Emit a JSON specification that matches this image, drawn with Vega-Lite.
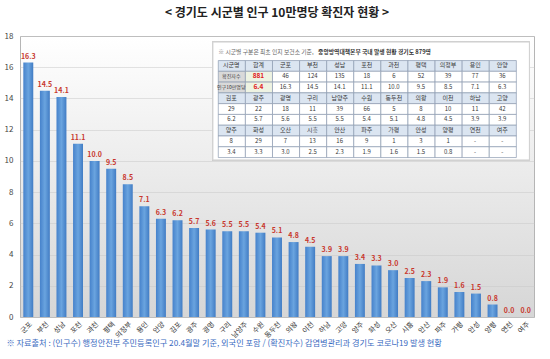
{
  "$schema": "https://vega.github.io/schema/vega-lite/v6.json",
  "width": 514,
  "height": 281,
  "autosize": "none",
  "padding": {"left": 20, "top": 36, "right": 16, "bottom": 42},
  "background": "white",
  "title": {"text": "< 경기도 시군별 인구 10만명당 확진자 현황 >", "fontSize": 12, "fontWeight": "bold", "color": "#222222", "offset": 12, "font": "Noto Sans CJK KR"},
  "config": {
    "font": "Noto Sans CJK KR",
    "view": {"stroke": "#b5b5b5", "strokeWidth": 1, "fill": {"gradient": "linear", "x1": 0, "y1": 0, "x2": 0, "y2": 1, "stops": [{"offset": 0, "color": "#ffffff"}, {"offset": 1, "color": "#d6d6d6"}]}}
  },
  "datasets": {
    "bars": [
      {"city": "군포", "v": 16.3}, {"city": "부천", "v": 14.5}, {"city": "성남", "v": 14.1}, {"city": "포천", "v": 11.1},
      {"city": "과천", "v": 10.0}, {"city": "평택", "v": 9.5}, {"city": "의정부", "v": 8.5}, {"city": "용인", "v": 7.1},
      {"city": "안양", "v": 6.3}, {"city": "김포", "v": 6.2}, {"city": "광주", "v": 5.7}, {"city": "광명", "v": 5.6},
      {"city": "구리", "v": 5.5}, {"city": "남양주", "v": 5.5}, {"city": "수원", "v": 5.4}, {"city": "동두천", "v": 5.1},
      {"city": "의왕", "v": 4.8}, {"city": "이천", "v": 4.5}, {"city": "하남", "v": 3.9}, {"city": "고양", "v": 3.9},
      {"city": "양주", "v": 3.4}, {"city": "화성", "v": 3.3}, {"city": "오산", "v": 3.0}, {"city": "시흥", "v": 2.5},
      {"city": "안산", "v": 2.3}, {"city": "파주", "v": 1.9}, {"city": "가평", "v": 1.6}, {"city": "안성", "v": 1.5},
      {"city": "양평", "v": 0.8}, {"city": "연천", "v": 0.0}, {"city": "여주", "v": 0.0}
    ],
    "table": [
      {"r": 0, "c": 0, "t": "시군명", "k": "h"}, {"r": 0, "c": 1, "t": "합계", "k": "h"}, {"r": 0, "c": 2, "t": "군포", "k": "h"}, {"r": 0, "c": 3, "t": "부천", "k": "h"}, {"r": 0, "c": 4, "t": "성남", "k": "h"}, {"r": 0, "c": 5, "t": "포천", "k": "h"}, {"r": 0, "c": 6, "t": "과천", "k": "h"}, {"r": 0, "c": 7, "t": "평택", "k": "h"}, {"r": 0, "c": 8, "t": "의정부", "k": "h"}, {"r": 0, "c": 9, "t": "용인", "k": "h"}, {"r": 0, "c": 10, "t": "안양", "k": "h"},
      {"r": 1, "c": 0, "t": "확진자수", "k": "l"}, {"r": 1, "c": 1, "t": "881", "k": "s"}, {"r": 1, "c": 2, "t": "46", "k": "v"}, {"r": 1, "c": 3, "t": "124", "k": "v"}, {"r": 1, "c": 4, "t": "135", "k": "v"}, {"r": 1, "c": 5, "t": "18", "k": "v"}, {"r": 1, "c": 6, "t": "6", "k": "v"}, {"r": 1, "c": 7, "t": "52", "k": "v"}, {"r": 1, "c": 8, "t": "39", "k": "v"}, {"r": 1, "c": 9, "t": "77", "k": "v"}, {"r": 1, "c": 10, "t": "36", "k": "v"},
      {"r": 2, "c": 0, "t": "인구10만명당", "k": "l"}, {"r": 2, "c": 1, "t": "6.4", "k": "s"}, {"r": 2, "c": 2, "t": "16.3", "k": "v"}, {"r": 2, "c": 3, "t": "14.5", "k": "v"}, {"r": 2, "c": 4, "t": "14.1", "k": "v"}, {"r": 2, "c": 5, "t": "11.1", "k": "v"}, {"r": 2, "c": 6, "t": "10.0", "k": "v"}, {"r": 2, "c": 7, "t": "9.5", "k": "v"}, {"r": 2, "c": 8, "t": "8.5", "k": "v"}, {"r": 2, "c": 9, "t": "7.1", "k": "v"}, {"r": 2, "c": 10, "t": "6.3", "k": "v"},
      {"r": 3, "c": 0, "t": "김포", "k": "h"}, {"r": 3, "c": 1, "t": "광주", "k": "h"}, {"r": 3, "c": 2, "t": "광명", "k": "h"}, {"r": 3, "c": 3, "t": "구리", "k": "h"}, {"r": 3, "c": 4, "t": "남양주", "k": "h"}, {"r": 3, "c": 5, "t": "수원", "k": "h"}, {"r": 3, "c": 6, "t": "동두천", "k": "h"}, {"r": 3, "c": 7, "t": "의왕", "k": "h"}, {"r": 3, "c": 8, "t": "이천", "k": "h"}, {"r": 3, "c": 9, "t": "하남", "k": "h"}, {"r": 3, "c": 10, "t": "고양", "k": "h"},
      {"r": 4, "c": 0, "t": "29", "k": "v"}, {"r": 4, "c": 1, "t": "22", "k": "v"}, {"r": 4, "c": 2, "t": "18", "k": "v"}, {"r": 4, "c": 3, "t": "11", "k": "v"}, {"r": 4, "c": 4, "t": "39", "k": "v"}, {"r": 4, "c": 5, "t": "66", "k": "v"}, {"r": 4, "c": 6, "t": "5", "k": "v"}, {"r": 4, "c": 7, "t": "8", "k": "v"}, {"r": 4, "c": 8, "t": "10", "k": "v"}, {"r": 4, "c": 9, "t": "11", "k": "v"}, {"r": 4, "c": 10, "t": "42", "k": "v"},
      {"r": 5, "c": 0, "t": "6.2", "k": "v"}, {"r": 5, "c": 1, "t": "5.7", "k": "v"}, {"r": 5, "c": 2, "t": "5.6", "k": "v"}, {"r": 5, "c": 3, "t": "5.5", "k": "v"}, {"r": 5, "c": 4, "t": "5.5", "k": "v"}, {"r": 5, "c": 5, "t": "5.4", "k": "v"}, {"r": 5, "c": 6, "t": "5.1", "k": "v"}, {"r": 5, "c": 7, "t": "4.8", "k": "v"}, {"r": 5, "c": 8, "t": "4.5", "k": "v"}, {"r": 5, "c": 9, "t": "3.9", "k": "v"}, {"r": 5, "c": 10, "t": "3.9", "k": "v"},
      {"r": 6, "c": 0, "t": "양주", "k": "h"}, {"r": 6, "c": 1, "t": "화성", "k": "h"}, {"r": 6, "c": 2, "t": "오산", "k": "h"}, {"r": 6, "c": 3, "t": "시흥", "k": "h"}, {"r": 6, "c": 4, "t": "안산", "k": "h"}, {"r": 6, "c": 5, "t": "파주", "k": "h"}, {"r": 6, "c": 6, "t": "가평", "k": "h"}, {"r": 6, "c": 7, "t": "안성", "k": "h"}, {"r": 6, "c": 8, "t": "양평", "k": "h"}, {"r": 6, "c": 9, "t": "연천", "k": "h"}, {"r": 6, "c": 10, "t": "여주", "k": "h"},
      {"r": 7, "c": 0, "t": "8", "k": "v"}, {"r": 7, "c": 1, "t": "29", "k": "v"}, {"r": 7, "c": 2, "t": "7", "k": "v"}, {"r": 7, "c": 3, "t": "13", "k": "v"}, {"r": 7, "c": 4, "t": "16", "k": "v"}, {"r": 7, "c": 5, "t": "9", "k": "v"}, {"r": 7, "c": 6, "t": "1", "k": "v"}, {"r": 7, "c": 7, "t": "3", "k": "v"}, {"r": 7, "c": 8, "t": "1", "k": "v"}, {"r": 7, "c": 9, "t": "-", "k": "v"}, {"r": 7, "c": 10, "t": "-", "k": "v"},
      {"r": 8, "c": 0, "t": "3.4", "k": "v"}, {"r": 8, "c": 1, "t": "3.3", "k": "v"}, {"r": 8, "c": 2, "t": "3.0", "k": "v"}, {"r": 8, "c": 3, "t": "2.5", "k": "v"}, {"r": 8, "c": 4, "t": "2.3", "k": "v"}, {"r": 8, "c": 5, "t": "1.9", "k": "v"}, {"r": 8, "c": 6, "t": "1.6", "k": "v"}, {"r": 8, "c": 7, "t": "1.5", "k": "v"}, {"r": 8, "c": 8, "t": "0.8", "k": "v"}, {"r": 8, "c": 9, "t": "-", "k": "v"}, {"r": 8, "c": 10, "t": "-", "k": "v"}
    ]
  },
  "layer": [
    {
      "data": {"name": "bars"},
      "encoding": {
        "x": {"field": "city", "type": "nominal", "sort": null, "scale": {"paddingInner": 0.4, "paddingOuter": 0.2},
          "axis": {"labelAngle": -45, "labelFontSize": 7, "labelColor": "#333333", "ticks": false, "domain": false, "labelPadding": 3,
            "title": "※ 자료출처 : (인구수) 행정안전부 주민등록인구 20.4월말 기준, 외국인 포함 / (확진자수) 감염병관리과 경기도 코로나19 발생 현황",
            "titleFontSize": 8.2, "titleColor": "#3a6bbf", "titleFontWeight": "normal", "titleAnchor": "start", "titleAlign": "left", "titleX": -14, "titleY": 26, "titleBaseline": "middle"}},
        "y": {"field": "v", "type": "quantitative", "scale": {"domain": [0, 18], "nice": false},
          "axis": {"values": [0, 2, 4, 6, 8, 10, 12, 14, 16, 18], "labelFontSize": 8, "labelColor": "#444444", "ticks": false, "domain": false, "labelPadding": 7, "grid": true, "gridColor": "#c8c8c8", "gridOpacity": 0.5, "title": null}}
      },
      "layer": [
        {
          "mark": {"type": "bar", "color": {"gradient": "linear", "x1": 0, "y1": 0, "x2": 1, "y2": 0, "stops": [{"offset": 0, "color": "#4682cb"}, {"offset": 0.5, "color": "#6aa4df"}, {"offset": 1, "color": "#417cc4"}]}}
        },
        {
          "mark": {"type": "text", "dy": -6, "fontSize": 7, "fontWeight": "bold", "color": "#c8372d"},
          "encoding": {
            "text": {"field": "v", "type": "quantitative", "format": ".1f"}
          }
        }
      ]
    },
    {
      "data": {"name": "table"},
      "layer": [
        {
          "mark": {"type": "rect", "color": "white", "stroke": "#d0d0d0", "strokeWidth": 1},
          "encoding": {
            "x": {"datum": -0.18, "type": "quantitative", "scale": {"domain": [-7.3, 11.67], "nice": false, "zero": false}, "axis": null},
            "x2": {"datum": 11.5},
            "y": {"datum": -1.67, "type": "quantitative", "scale": {"domain": [-2.23, 23.84], "nice": false, "zero": false, "reverse": true}, "axis": null},
            "y2": {"datum": 9.27}
          }
        },
        {
          "mark": {"type": "rect", "stroke": "#8c9bb0", "strokeWidth": 0.7},
          "encoding": {
            "x": {"field": "c", "type": "quantitative", "bin": {"binned": true, "step": 1}, "axis": null},
            "y": {"field": "r", "type": "quantitative", "bin": {"binned": true, "step": 1}, "axis": null},
            "fill": {"condition": [{"test": "datum.k === 'h'", "value": "#dbe5f1"}, {"test": "datum.k === 'l'", "value": "#d9d9d9"}, {"test": "datum.k === 's'", "value": "#eef3e2"}], "value": "#ffffff"}
          }
        },
        {
          "transform": [{"filter": "datum.k !== 's'"}],
          "mark": {"type": "text", "dx": 13.5, "dy": 5.4, "align": "center", "baseline": "middle"},
          "encoding": {
            "x": {"field": "c", "type": "quantitative", "axis": null},
            "y": {"field": "r", "type": "quantitative", "axis": null},
            "text": {"field": "t"},
            "size": {"condition": {"test": "datum.k === 'l'", "value": 5}, "value": 6},
            "color": {"value": "#3a3a3a"}
          }
        },
        {
          "transform": [{"filter": "datum.k === 's'"}],
          "mark": {"type": "text", "dx": 13.5, "dy": 5.4, "align": "center", "baseline": "middle", "fontWeight": "bold", "fontSize": 6.5, "color": "#e02020"},
          "encoding": {
            "x": {"field": "c", "type": "quantitative", "axis": null},
            "y": {"field": "r", "type": "quantitative", "axis": null},
            "text": {"field": "t"}
          }
        },
        {
          "data": {"values": [{}]},
          "mark": {"type": "text", "align": "left", "baseline": "middle", "fontSize": 5.8, "color": "#666666", "text": "※ 시군별 구분은 최초 인지 보건소 기준,"},
          "encoding": {"x": {"datum": 0.02, "type": "quantitative", "axis": null}, "y": {"datum": -0.74, "type": "quantitative", "axis": null}}
        },
        {
          "data": {"values": [{}]},
          "mark": {"type": "text", "align": "left", "baseline": "middle", "fontSize": 5.8, "fontWeight": "bold", "color": "#333333", "text": "중앙방역대책본부 국내 발생 현황 경기도 879명"},
          "encoding": {"x": {"datum": 3.7, "type": "quantitative", "axis": null}, "y": {"datum": -0.74, "type": "quantitative", "axis": null}}
        }
      ]
    }
  ],
  "resolve": {"scale": {"x": "independent", "y": "independent"}}
}
